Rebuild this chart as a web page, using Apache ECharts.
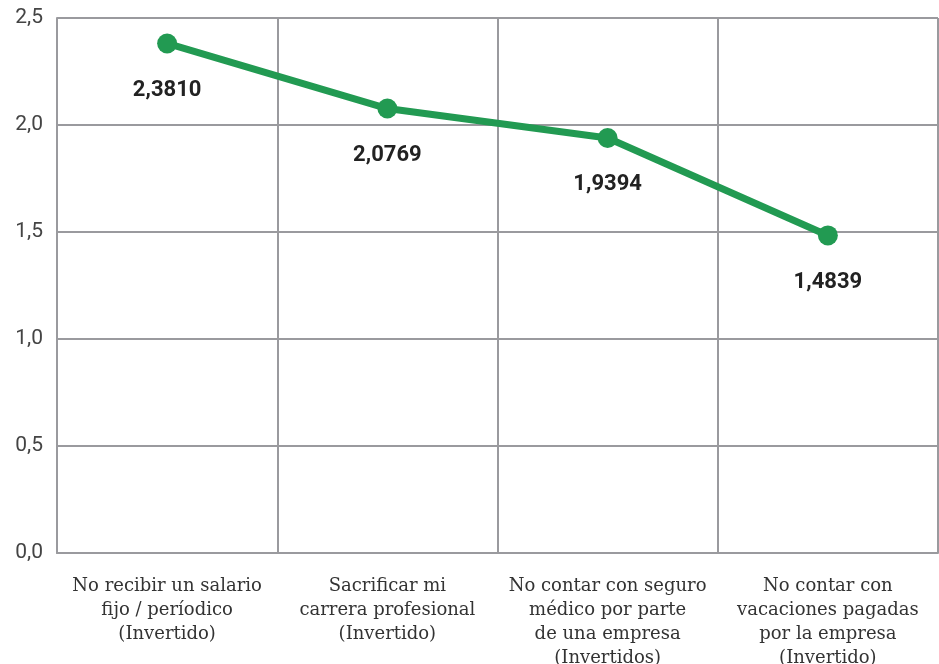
<!DOCTYPE html>
<html>
<head>
<meta charset="utf-8">
<script src="https://cdn.jsdelivr.net/npm/echarts@6/dist/echarts.min.js"></script>
<style>
  html, body { margin: 0; padding: 0; background: #fff; }
  #chart { width: 939px; height: 664px; }
</style>
</head>
<body>
<div id="chart"></div>
<script>
const categories = [
  'No recibir un salario\nfijo / períodico\n(Invertido)',
  'Sacrificar mi\ncarrera profesional\n(Invertido)',
  'No contar con seguro\nmédico por parte\nde una empresa\n(Invertidos)',
  'No contar con\nvacaciones pagadas\npor la empresa\n(Invertido)'
]
const values = [2.381, 2.0769, 1.9394, 1.4839]
const yTicks = [0, 0.5, 1, 1.5, 2, 2.5]

const fmt = (v, d) => v.toFixed(d).replace('.', ',')

const chart = echarts.init(document.getElementById('chart'))
chart.setOption({
  animation: false,
  grid: { left: 57, right: 1, top: 18, bottom: 111, outerBoundsMode: 'none', containLabel: false },
  xAxis: {
    type: 'category',
    data: categories,
    boundaryGap: true,
    axisLine: { show: true, lineStyle: { color: '#9a9a9e', width: 2 } },
    axisTick: { show: false },
    splitLine: { show: true, lineStyle: { color: '#9a9a9e', width: 2 } },
    axisLabel: {
      interval: 0,
      margin: 21,
      color: '#333',
      fontFamily: 'DejaVu Serif',
      fontSize: 18,
      lineHeight: 24
    }
  },
  yAxis: {
    type: 'value',
    min: yTicks[0],
    max: yTicks[yTicks.length - 1],
    interval: 0.5,
    axisLine: { show: true, lineStyle: { color: '#9a9a9e', width: 2 } },
    axisTick: { show: false },
    splitLine: { show: true, lineStyle: { color: '#9a9a9e', width: 2 } },
    axisLabel: {
      margin: 14,
      color: '#444',
      fontFamily: 'Roboto',
      fontSize: 21,
      formatter: v => fmt(v, 1)
    }
  },
  series: [{
    type: 'line',
    data: values,
    symbol: 'circle',
    symbolSize: 20,
    lineStyle: { color: '#229a52', width: 7 },
    itemStyle: { color: '#229a52' },
    label: {
      show: true,
      position: 'bottom',
      distance: 26,
      color: '#222',
      fontFamily: 'Roboto',
      fontWeight: 'bold',
      fontSize: 22,
      formatter: p => fmt(p.value, 4)
    }
  }]
})
</script>
</body>
</html>
